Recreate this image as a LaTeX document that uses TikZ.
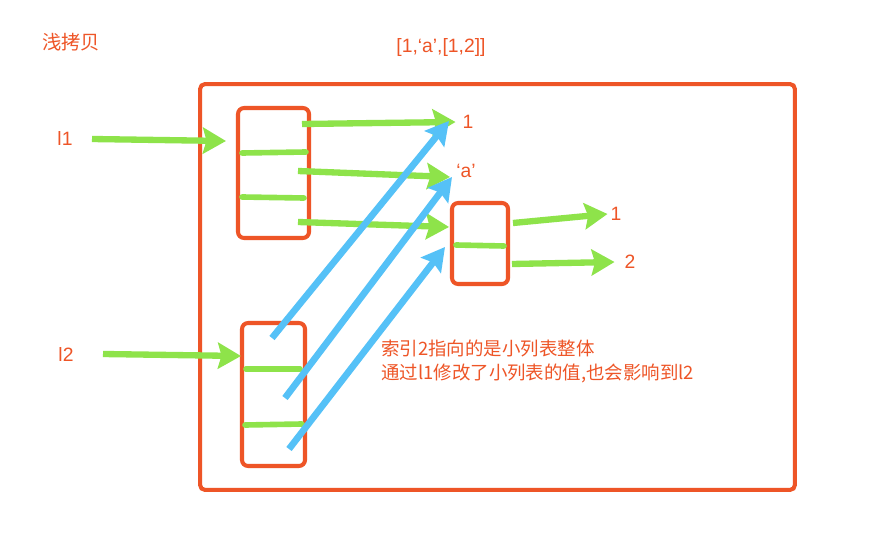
\documentclass[tikz,border=0pt]{standalone}
\usepackage{fontspec}
\setmainfont{Liberation Sans}
\newfontfamily\cjk{Noto Sans CJK SC}
\usetikzlibrary{arrows.meta, positioning}
\definecolor{boxred}{HTML}{EE5527}
\definecolor{ptrgreen}{HTML}{8EE34A}
\definecolor{refblue}{HTML}{55C1F7}
\tikzset{
  list_box/.style={rectangle, draw=boxred, line width=2.3pt, rounded corners=1.2mm, inner sep=0pt},
  outer_box/.style={rectangle, draw=boxred, line width=2.3pt, rounded corners=1mm, inner sep=0pt, minimum width=11.9cm, minimum height=8.12cm},
  cell_line/.style={ptrgreen, line width=3.2pt, line cap=round},
  green_arrow/.style={-{Stealth[length=0.46cm, width=0.52cm, inset=0.07cm]}, ptrgreen, line width=3.6pt},
  blue_arrow/.style={-{Stealth[length=0.46cm, width=0.5cm, inset=0.07cm]}, refblue, line width=3.8pt},
  label_text/.style={text=boxred, font=\fontsize{11}{13}\selectfont, inner sep=1pt},
  note_text/.style={text=boxred, font=\cjk\fontsize{10.5}{13.6}\selectfont, align=left, inner sep=0pt}
}

\begin{document}
\begin{tikzpicture}[x=0.02cm, y=-0.02cm]
    \useasboundingbox[fill=white] (0,0) rectangle (873,554);

    % 1. Titles
    \node[label_text, font=\cjk\fontsize{11}{13}\selectfont, anchor=west] (title) at (40,42) {浅拷贝};
    \node[label_text] (listval) at (441,48) {[1,‘a’,[1,2]]};

    % 2. Boxes
    \node[outer_box] (frame) at (497.5,287) {};
    \node[list_box, minimum width=1.42cm, minimum height=2.6cm] (l1box) at (273.5,173) {};
    \node[list_box, minimum width=1.26cm, minimum height=2.86cm] (l2box) at (273.5,394.5) {};
    \node[list_box, minimum width=1.12cm, minimum height=1.62cm] (subbox) at (480,243.5) {};

    % 3. Cell dividers
    \draw[cell_line] (242,153) -- (306,152);
    \draw[cell_line] (242,197) -- (304,198);
    \draw[cell_line] (246,369) -- (300,369);
    \draw[cell_line] (245,425) -- (302,424);
    \draw[cell_line] (456,245) -- (504,246);

    % 4. Names and values
    \node[label_text] (l1lbl) at (65,138) {l1};
    \node[label_text] (l2lbl) at (66,354) {l2};
    \node[label_text] (v1) at (468,122) {1};
    \node[label_text] (va) at (466,171) {‘a’};
    \node[label_text] (s1) at (616,214) {1};
    \node[label_text] (s2) at (630,262) {2};

    % 5. Variable pointers
    \coordinate (l1tail) at (92,139);
    \coordinate (l1head) at (226,141);
    \coordinate (l2tail) at (103,354);
    \coordinate (l2head) at (241,356);
    \draw[green_arrow] (l1tail) -- (l1head);
    \draw[green_arrow] (l2tail) -- (l2head);

    % 6. Cells of l1
    \coordinate (c1) at (302,124);
    \coordinate (c2) at (298,171);
    \coordinate (c3) at (298,222);
    \coordinate (subin) at (449,227);
    \draw[green_arrow] (c1) -- ([xshift=-0.1cm]v1.west);
    \draw[green_arrow] (c2) -- (450,177);
    \draw[green_arrow] (c3) -- (subin);

    % 7. Cells of the small list
    \coordinate (sc1) at (513,223);
    \coordinate (sc2) at (512,264);
    \draw[green_arrow] (sc1) -- ([xshift=-0.02cm]s1.west);
    \draw[green_arrow] (sc2) -- ([xshift=-0.16cm]s2.west);

    % 8. Cells of l2
    \coordinate (d1) at (272,338);
    \coordinate (d2) at (285,398);
    \coordinate (d3) at (289,449);
    \draw[blue_arrow] (d1) -- (449,121);
    \draw[blue_arrow] (d2) -- (452,177);
    \draw[blue_arrow] (d3) -- (445,247);

    % 9. Note
    \node[note_text, anchor=north west] (note) at (381,340) {索引2指向的是小列表整体\\通过l1修改了小列表的值,也会影响到l2};
\end{tikzpicture}
\end{document}
